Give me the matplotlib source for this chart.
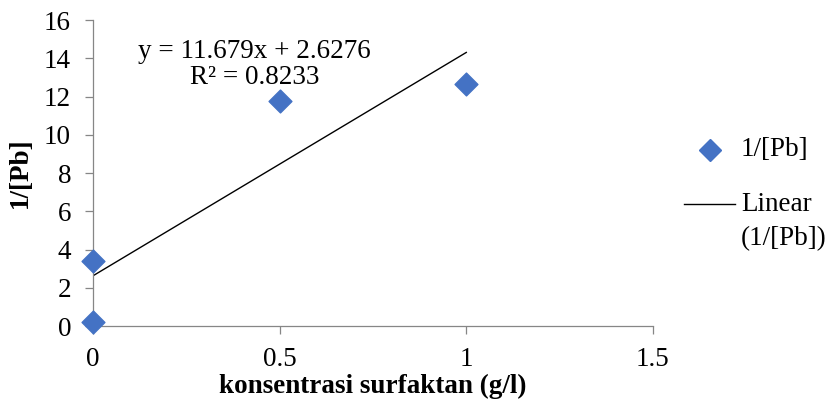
import numpy as np
import matplotlib
matplotlib.use("Agg")
import matplotlib.pyplot as plt
from matplotlib.lines import Line2D

# --- DATA ---
x_conc = [0, 0, 0.5, 1]
inv_pb = [0.2, 3.42, 11.78, 12.65]
slope, intercept, r2 = 11.679, 2.6276, 0.8233
x_ticks = [0, 0.5, 1, 1.5]
y_ticks = [0, 2, 4, 6, 8, 10, 12, 14, 16]

plt.rcParams['font.family'] = ['Liberation Serif', 'DejaVu Serif']
fs = 19.5

fig = plt.figure(figsize=(8.27, 4.01), dpi=100)
ax = fig.add_axes([0.1125, 0.187, 0.677, 0.763])

blue = '#4472C4'
grey = '#868686'

ax.scatter(x_conc, inv_pb, marker='D', s=135, color=blue, zorder=3, clip_on=False)

xl = np.array([min(x_conc), max(x_conc)])
ax.plot(xl, slope * xl + intercept, color='black', lw=1.0, zorder=2)

ax.set_xlim(0, 1.5)
ax.set_ylim(0, 16)
ax.set_xticks(x_ticks)
ax.set_xticklabels(['0', '0.5', '1', '1.5'])
ax.set_yticks(y_ticks)

for s in ['top', 'right']:
    ax.spines[s].set_visible(False)
for s in ['left', 'bottom']:
    ax.spines[s].set_color(grey)
    ax.spines[s].set_linewidth(0.9)
ax.tick_params(axis='both', colors=grey, labelcolor='black', labelsize=fs,
               length=5.8, direction='out', width=0.9)
ax.tick_params(axis='x', pad=9)
ax.tick_params(axis='y', pad=10)

ax.set_xlabel('konsentrasi surfaktan (g/l)', fontsize=fs, fontweight='bold', labelpad=2)
ax.set_ylabel('1/[Pb]', fontsize=fs, fontweight='bold', labelpad=8)

ax.text(0.433, 13.7, f'y = {slope}x + {intercept}\nR² = {r2}', ha='center', va='center',
        fontsize=fs, linespacing=1.05)

# legend drawn by hand so the line sits beside the first text row
fig.add_artist(Line2D([0.8585], [0.626], marker='D', color=blue, linestyle='none',
                      markersize=11.5, transform=fig.transFigure))
fig.text(0.896, 0.626, '1/[Pb]', fontsize=fs, va='center', ha='left')
fig.add_artist(Line2D([0.827, 0.889], [0.491, 0.491], color='black', lw=1.0,
                      transform=fig.transFigure))
fig.text(0.896, 0.491, 'Linear', fontsize=fs, va='center', ha='left')
fig.text(0.896, 0.406, '(1/[Pb])', fontsize=fs, va='center', ha='left')

fig.savefig('out.png', dpi=100)
